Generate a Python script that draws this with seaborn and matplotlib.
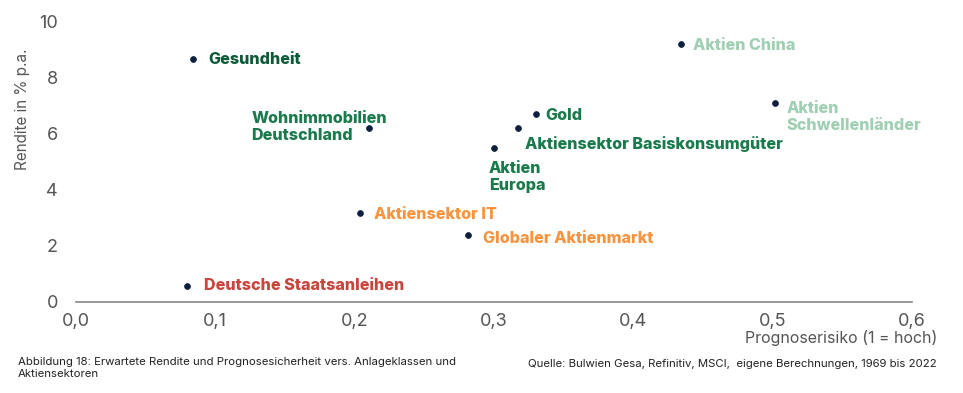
import matplotlib
matplotlib.use("Agg")
import matplotlib.pyplot as plt
import seaborn as sns
import pandas as pd

# Werte
anlagen = [
    "Gesundheit",
    "Wohnimmobilien\nDeutschland",
    "Aktien China",
    "Aktien\nSchwellenländer",
    "Gold",
    "Aktiensektor Basiskonsumgüter",
    "Aktien\nEuropa",
    "Aktiensektor IT",
    "Globaler Aktienmarkt",
    "Deutsche Staatsanleihen",
]
risiko = [0.084, 0.210, 0.434, 0.502, 0.330, 0.317, 0.300, 0.204, 0.281, 0.080]
rendite = [8.65, 6.2, 9.18, 7.08, 6.68, 6.2, 5.48, 3.17, 2.4, 0.57]
gruppe = ["dunkel", "gruen", "hell", "hell", "gruen", "gruen", "gruen", "orange", "orange", "rot"]

x_ticks = [0.0, 0.1, 0.2, 0.3, 0.4, 0.5, 0.6]
y_ticks = [0, 2, 4, 6, 8, 10]

farben = {"dunkel": "#0d5a38", "gruen": "#1a7a4c", "hell": "#a0cfb4",
          "orange": "#f8943f", "rot": "#c7463e"}

# Label-Versatz in Pixeln (dx, dy)
versatz = {
    "Gesundheit": (15, -1),
    "Wohnimmobilien\nDeutschland": (-117, 1),
    "Aktien China": (12, -1),
    "Aktien\nSchwellenländer": (11, -14),
    "Gold": (10, -1),
    "Aktiensektor Basiskonsumgüter": (7, -16),
    "Aktien\nEuropa": (-5, -29),
    "Aktiensektor IT": (14, -2),
    "Globaler Aktienmarkt": (15, -4),
    "Deutsche Staatsanleihen": (17, 0),
}

df = pd.DataFrame({"anlage": anlagen, "risiko": risiko, "rendite": rendite, "gruppe": gruppe})

sns.set_theme(style="white")
plt.rcParams["font.family"] = ["Inter", "DejaVu Sans"]

fig = plt.figure(figsize=(9.63, 3.93), dpi=100)
ax = fig.add_axes([76 / 963, 1 - 302 / 393, 836 / 963, 281 / 393])

sns.scatterplot(data=df, x="risiko", y="rendite", color="#0c1f3f", s=18,
                edgecolor="#0c1f3f", linewidth=0.5, ax=ax, zorder=3)

for _, r in df.iterrows():
    dx, dy = versatz[r["anlage"]]
    ax.annotate(r["anlage"], (r["risiko"], r["rendite"]), xytext=(dx, dy),
                textcoords="offset pixels", ha="left", va="center",
                fontsize=11.6, fontweight=800, color=farben[r["gruppe"]],
                linespacing=1.15)

ax.set_xlim(0, 0.6)
ax.set_ylim(0, 10)
ax.set_xticks(x_ticks)
ax.set_xticklabels([f"{t:.1f}".replace(".", ",") for t in x_ticks])
ax.set_yticks(y_ticks)
ax.set_yticklabels([str(t) for t in y_ticks])
ax.tick_params(axis="both", length=0, labelsize=13, colors="#555555")
ax.tick_params(axis="x", pad=8)
ax.tick_params(axis="y", pad=13)
for s in ["top", "right", "left"]:
    ax.spines[s].set_visible(False)
ax.spines["bottom"].set_color("#888888")
ax.spines["bottom"].set_linewidth(1.2)
ax.set_xlabel("")
ax.set_ylabel("")

fig.text(22 / 963, 1 - 109 / 393, "Rendite in % p.a.", rotation=90, ha="center", va="center",
         fontsize=11, color="#555555")
fig.text(937 / 963, 1 - 338 / 393, "Prognoserisiko (1 = hoch)", ha="right", va="center",
         fontsize=11.5, color="#555555")
fig.text(18 / 963, 1 - 357 / 393, "Abbildung 18: Erwartete Rendite und Prognosesicherheit vers. Anlageklassen und\nAktiensektoren",
         ha="left", va="top", fontsize=8.2, color="#222222", linespacing=1.2)
fig.text(937 / 963, 1 - 364 / 393, "Quelle: Bulwien Gesa, Refinitiv, MSCI,  eigene Berechnungen, 1969 bis 2022",
         ha="right", va="center", fontsize=8.2, color="#222222")

fig.savefig("out.png", dpi=100)
